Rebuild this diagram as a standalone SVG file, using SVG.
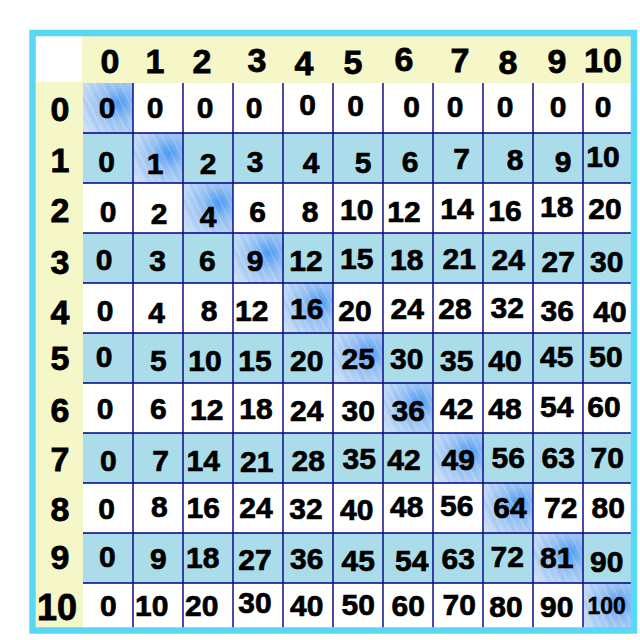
<svg xmlns="http://www.w3.org/2000/svg" width="640" height="640" viewBox="0 0 640 640">
<defs>
<style>
.c{font-family:"Liberation Sans",Arial,sans-serif;font-weight:bold;font-size:30px;text-anchor:middle;fill:#000;stroke:#000;stroke-width:0.7}
.h{font-family:"Liberation Sans",Arial,sans-serif;font-weight:bold;font-size:34px;text-anchor:middle;fill:#000;stroke:#000;stroke-width:0.8}
.s{font-size:23px;stroke-width:0.5}
.band{fill:#aadde9}
.hd{fill:#f5f7c8}
.g{stroke:#000080;stroke-width:1.4;fill:none}
</style>
<radialGradient id="rg" cx="0.72" cy="0.4" r="0.8">
<stop offset="0" stop-color="#4c9af0"/>
<stop offset="0.4" stop-color="#93bff3"/>
<stop offset="1" stop-color="#c6dcf7"/>
</radialGradient>
<pattern id="tex" patternUnits="userSpaceOnUse" x="83" y="83" width="50" height="50">
<rect width="50" height="50" fill="url(#rg)"/>
<g stroke="#ffffff" stroke-opacity="0.3" stroke-width="0.9">
<line x1="-20" y1="0" x2="5" y2="50"/>
<line x1="-13" y1="0" x2="12" y2="50"/>
<line x1="-4" y1="0" x2="21" y2="50"/>
<line x1="3" y1="0" x2="28" y2="50"/>
<line x1="11" y1="0" x2="36" y2="50"/>
<line x1="19" y1="0" x2="44" y2="50"/>
<line x1="28" y1="0" x2="53" y2="50"/>
<line x1="37" y1="0" x2="62" y2="50"/>
</g>
<g stroke="#3a8ae8" stroke-opacity="0.18" stroke-width="1">
<line x1="7" y1="0" x2="32" y2="50"/>
<line x1="23" y1="0" x2="48" y2="50"/>
<line x1="-8" y1="0" x2="17" y2="50"/>
</g>
</pattern>
</defs>
<rect x="0" y="0" width="640" height="640" fill="#ffffff"/>
<g id="background">
<rect class="hd" x="82" y="36" width="549" height="47"/>
<rect class="hd" x="36" y="82" width="47" height="546"/>
<rect class="band" x="83" y="133" width="548" height="50"/>
<rect class="band" x="83" y="233" width="548" height="50"/>
<rect class="band" x="83" y="333" width="548" height="50"/>
<rect class="band" x="83" y="433" width="548" height="50"/>
<rect class="band" x="83" y="533" width="548" height="50"/>
</g>
<g id="diagonal" fill="url(#tex)">
<rect x="83" y="83" width="50" height="50"/>
<rect x="133" y="133" width="50" height="50"/>
<rect x="183" y="183" width="50" height="50"/>
<rect x="233" y="233" width="50" height="50"/>
<rect x="283" y="283" width="50" height="50"/>
<rect x="333" y="333" width="50" height="50"/>
<rect x="383" y="383" width="50" height="50"/>
<rect x="433" y="433" width="50" height="50"/>
<rect x="483" y="483" width="50" height="50"/>
<rect x="533" y="533" width="50" height="50"/>
<rect x="583" y="583" width="48" height="45"/>
</g>
<g id="grid" class="g">
<path d="M133 83V628M183 83V628M233 83V628M283 83V628M333 83V628M383 83V628M433 83V628M483 83V628M533 83V628M583 83V628"/>
<path d="M83 133H631M83 183H631M83 233H631M83 283H631M83 333H631M83 383H631M83 433H631M83 483H631M83 533H631M83 583H631"/>
</g>
<g id="header-row" class="h">
<text x="110" y="72.9">0</text>
<text x="155" y="72.9">1</text>
<text x="202" y="72.9">2</text>
<text x="257" y="72.2">3</text>
<text x="304" y="75.2">4</text>
<text x="353" y="73.9">5</text>
<text x="404" y="71.2">6</text>
<text x="460" y="72.2">7</text>
<text x="508" y="73.9">8</text>
<text x="557" y="72.9">9</text>
<text x="603" y="72.2">10</text>
</g>
<g id="header-col" class="h">
<text x="60" y="121.2">0</text>
<text x="60" y="172.2">1</text>
<text x="60" y="222.2">2</text>
<text x="60" y="273.9">3</text>
<text x="60" y="323.9">4</text>
<text x="60" y="370.2">5</text>
<text x="60" y="422.2">6</text>
<text x="60" y="470.5">7</text>
<text x="60" y="520.5">8</text>
<text x="60" y="568.9">9</text>
<text x="57" y="619.5" style="font-size:36px">10</text>
</g>
<g id="row0" class="c">
<text x="107" y="117.7">0</text><text x="155" y="117.7">0</text><text x="205" y="117.7">0</text><text x="254" y="117.7">0</text><text x="307.7" y="114.7">0</text><text x="355.7" y="116.4">0</text><text x="411.7" y="117.4">0</text><text x="455" y="116.7">0</text><text x="505" y="116.7">0</text><text x="558" y="116.7">0</text><text x="603" y="116.7">0</text>
</g>
<g id="row1" class="c">
<text x="106.7" y="172.4">0</text><text x="155" y="173.7">1</text><text x="208" y="173.7">2</text><text x="255" y="171.7">3</text><text x="311" y="173.4">4</text><text x="363" y="173.4">5</text><text x="410" y="171.7">6</text><text x="461.7" y="168.7">7</text><text x="515" y="169.7">8</text><text x="563" y="172.4">9</text><text x="603" y="167.4">10</text>
</g>
<g id="row2" class="c">
<text x="108" y="222.4">0</text><text x="159" y="223.7">2</text><text x="208" y="227.4">4</text><text x="257.7" y="221.7">6</text><text x="310" y="222.4">8</text><text x="356.7" y="219.7">10</text><text x="404" y="222.4">12</text><text x="457" y="218.7">14</text><text x="505" y="220.7">16</text><text x="556.7" y="217.4">18</text><text x="605" y="218.7">20</text>
</g>
<g id="row3" class="c">
<text x="104" y="270">0</text><text x="157.7" y="271.4">3</text><text x="207.3" y="271.4">6</text><text x="255" y="270.7">9</text><text x="306" y="271.4">12</text><text x="356.7" y="269">15</text><text x="406.7" y="270">18</text><text x="459.3" y="269">21</text><text x="508.3" y="270">24</text><text x="558.3" y="272.4">27</text><text x="606.7" y="272.4">30</text>
</g>
<g id="row4" class="c">
<text x="105" y="320.7">0</text><text x="156.7" y="323.4">4</text><text x="209" y="320.7">8</text><text x="251.7" y="320.7">12</text><text x="306.7" y="319">16</text><text x="355" y="320.7">20</text><text x="407.3" y="319">24</text><text x="455" y="319">28</text><text x="507.3" y="318">32</text><text x="557.3" y="321.4">36</text><text x="610" y="322.4">40</text>
</g>
<g id="row5" class="c">
<text x="104" y="367.4">0</text><text x="158.3" y="370.7">5</text><text x="205" y="371.4">10</text><text x="255" y="370.7">15</text><text x="306.7" y="370.7">20</text><text x="358.3" y="369">25</text><text x="406.7" y="369">30</text><text x="456.7" y="370.7">35</text><text x="505" y="370.7">40</text><text x="556.7" y="367.4">45</text><text x="606" y="367.4">50</text>
</g>
<g id="row6" class="c">
<text x="105" y="419">0</text><text x="158.3" y="419">6</text><text x="206.7" y="420">12</text><text x="256" y="419">18</text><text x="306.7" y="420.7">24</text><text x="358.3" y="420.7">30</text><text x="408.3" y="420.7">36</text><text x="456.7" y="419">42</text><text x="505" y="419">48</text><text x="556.7" y="417.4">54</text><text x="604" y="417.4">60</text>
</g>
<g id="row7" class="c">
<text x="108.3" y="471.4">0</text><text x="160.7" y="471.4">7</text><text x="203.3" y="471.4">14</text><text x="256.7" y="472.4">21</text><text x="308.3" y="470.7">28</text><text x="359.3" y="469">35</text><text x="404" y="470">42</text><text x="458.3" y="470">49</text><text x="508.3" y="468">56</text><text x="558.3" y="468">63</text><text x="607.3" y="468">70</text>
</g>
<g id="row8" class="c">
<text x="106.7" y="519">0</text><text x="159.3" y="517.4">8</text><text x="203.3" y="518">16</text><text x="256" y="518">24</text><text x="306" y="519">32</text><text x="356.7" y="520">40</text><text x="406.7" y="517.4">48</text><text x="456.7" y="515.7">56</text><text x="510" y="518">64</text><text x="560.7" y="518">72</text><text x="608.3" y="518">80</text>
</g>
<g id="row9" class="c">
<text x="107.3" y="567.4">0</text><text x="158.3" y="569">9</text><text x="202.7" y="568">18</text><text x="255" y="570">27</text><text x="306.7" y="569">36</text><text x="358.3" y="570.7">45</text><text x="411.7" y="570.7">54</text><text x="458.3" y="569">63</text><text x="507.3" y="566.7">72</text><text x="556.7" y="568">81</text><text x="606.7" y="572.4">90</text>
</g>
<g id="row10" class="c">
<text x="108.3" y="615.7">0</text><text x="151.7" y="615.7">10</text><text x="201.7" y="615.7">20</text><text x="255" y="613.4">30</text><text x="306.7" y="615.7">40</text><text x="358.3" y="614.7">50</text><text x="408.3" y="615.7">60</text><text x="459.3" y="614.7">70</text><text x="506" y="616.7">80</text><text x="556.7" y="617.4">90</text><text class="s" x="606.7" y="614.2">100</text>
</g>
<rect id="frame" x="32.5" y="33" width="601.5" height="597.5" fill="none" stroke="#58d8f5" stroke-width="6.5"/>
</svg>
